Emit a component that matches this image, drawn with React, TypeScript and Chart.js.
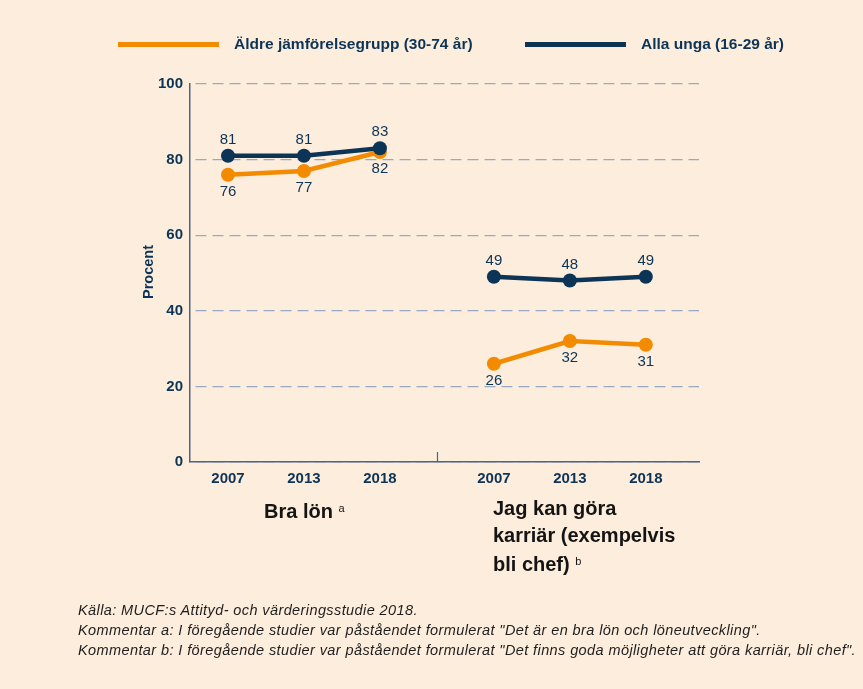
import React, { useEffect, useRef } from 'react';
import { Chart, registerables } from 'chart.js';

Chart.register(...registerables);

const yearLabels = ['2007', '2013', '2018', '2007', '2013', '2018'];
const xPositions = [0.5, 1.5, 2.5, 4, 5, 6];
const separatorX = 3.25;
const youngValues = [81, 81, 83, 49, 48, 49];
const olderValues = [76, 77, 82, 26, 32, 31];
const seriesNames = ['Äldre jämförelsegrupp (30-74 år)', 'Alla unga (16-29 år)'];
const footnotes = [
  'Källa: MUCF:s Attityd- och värderingsstudie 2018.',
  'Kommentar a: I föregående studier var påståendet formulerat "Det är en bra lön och löneutveckling".',
  'Kommentar b: I föregående studier var påståendet formulerat "Det finns goda möjligheter att göra karriär, bli chef".',
];

const ORANGE = '#f28b00';
const NAVY = '#0c3457';
const AXIS = '#4a6585';
const GRID = '#98a9c0';
const BG = '#fdeddc';
const FONT = '"Liberation Sans", Arial, Helvetica, sans-serif';

function buildPoints(values: number[]) {
  const pts: { x: number; y: number | null }[] = [];
  values.forEach((v, i) => {
    if (i === 3) pts.push({ x: separatorX, y: null });
    pts.push({ x: xPositions[i], y: v });
  });
  return pts;
}

const labelPlugin = {
  id: 'valueLabels',
  afterDatasetsDraw(chart: any) {
    const ctx = chart.ctx;
    ctx.save();
    ctx.font = `15px ${FONT}`;
    ctx.fillStyle = NAVY;
    ctx.textAlign = 'center';
    ctx.textBaseline = 'middle';
    chart.data.datasets.forEach((ds: any, di: number) => {
      const meta = chart.getDatasetMeta(di);
      meta.data.forEach((el: any, i: number) => {
        const raw = ds.data[i];
        if (raw.y == null) return;
        ctx.fillText(String(raw.y), el.x, el.y + ds.labelOffset);
      });
    });
    ctx.restore();
  },
};

const extrasPlugin = {
  id: 'extras',
  afterDraw(chart: any) {
    const ctx = chart.ctx;
    const xs = chart.scales.x;
    const area = chart.chartArea;
    ctx.save();
    const sx = Math.round(xs.getPixelForValue(separatorX)) + 0.5;
    ctx.strokeStyle = AXIS;
    ctx.lineWidth = 1.2;
    ctx.beginPath();
    ctx.moveTo(sx, area.bottom);
    ctx.lineTo(sx, area.bottom - 10);
    ctx.stroke();
    ctx.translate(149, (area.top + area.bottom) / 2 - 1);
    ctx.rotate(-Math.PI / 2);
    ctx.font = `bold 14.5px ${FONT}`;
    ctx.fillStyle = NAVY;
    ctx.textAlign = 'center';
    ctx.textBaseline = 'middle';
    ctx.fillText('Procent', 0, 0);
    ctx.restore();
  },
};

export default function App() {
  const ref = useRef<HTMLCanvasElement | null>(null);

  useEffect(() => {
    if (!ref.current) return;
    const chart = new Chart(ref.current, {
      type: 'line',
      data: {
        datasets: [
          {
            label: seriesNames[1],
            data: buildPoints(youngValues) as any,
            borderColor: NAVY,
            backgroundColor: NAVY,
            borderWidth: 4.5,
            pointRadius: 7,
            pointHoverRadius: 7,
            pointBorderWidth: 0,
            spanGaps: false,
            order: 1,
            labelOffset: -16,
          } as any,
          {
            label: seriesNames[0],
            data: buildPoints(olderValues) as any,
            borderColor: ORANGE,
            backgroundColor: ORANGE,
            borderWidth: 4.5,
            pointRadius: 7,
            pointHoverRadius: 7,
            pointBorderWidth: 0,
            spanGaps: false,
            order: 2,
            labelOffset: 17,
          } as any,
        ],
      },
      options: {
        animation: false,
        responsive: false,
        maintainAspectRatio: false,
        layout: { padding: { left: 0, top: 84, right: 164, bottom: 197 } },
        plugins: { legend: { display: false }, tooltip: { enabled: false } },
        scales: {
          x: {
            type: 'linear',
            min: 0,
            max: 6.7,
            afterBuildTicks: (scale: any) => {
              scale.ticks = xPositions.map((v) => ({ value: v }));
            },
            afterFit: (scale: any) => {
              scale.height = 30;
            },
            ticks: {
              autoSkip: false,
              maxRotation: 0,
              padding: 8,
              color: NAVY,
              font: { family: FONT, size: 15, weight: 'bold' },
              callback: (_v: any, i: number) => yearLabels[i],
            },
            grid: { display: false, drawTicks: false },
            border: { display: true, color: AXIS, width: 1.5 },
          },
          y: {
            type: 'linear',
            min: 0,
            max: 100,
            afterFit: (scale: any) => {
              scale.width = 190;
            },
            ticks: {
              stepSize: 20,
              padding: 7,
              color: NAVY,
              font: { family: FONT, size: 15, weight: 'bold' },
            },
            grid: { color: GRID, lineWidth: 1.2, drawTicks: false, tickLength: 0 },
            border: { display: true, color: AXIS, width: 1.5, dash: [11, 6], dashOffset: 12 },
          },
        },
      } as any,
      plugins: [labelPlugin, extrasPlugin],
    });
    return () => chart.destroy();
  }, []);

  const abs = (s: React.CSSProperties): React.CSSProperties => ({ position: 'absolute', whiteSpace: 'nowrap', ...s });

  return (
    <div style={{ position: 'fixed', left: 0, top: 0, width: 863, height: 689, background: BG, fontFamily: FONT, overflow: 'hidden' }}>
      <canvas ref={ref} width={863} height={689} style={{ position: 'absolute', left: 0, top: 0, width: 863, height: 689 }} />
      {/* legend */}
      <div style={abs({ left: 118, top: 42, width: 101, height: 5, background: ORANGE })} />
      <div style={abs({ left: 234, top: 34, lineHeight: '20px', fontSize: 15.5, fontWeight: 'bold', color: NAVY })}>{seriesNames[0]}</div>
      <div style={abs({ left: 525, top: 42, width: 101, height: 5, background: NAVY })} />
      <div style={abs({ left: 641, top: 34, lineHeight: '20px', fontSize: 15.5, fontWeight: 'bold', color: NAVY })}>{seriesNames[1]}</div>
      {/* group titles */}
      <div style={abs({ left: 264, top: 495, lineHeight: '26px', fontSize: 20, fontWeight: 'bold', color: '#141414' })}>
        Bra lön <span style={{ fontSize: 11, fontWeight: 'normal', verticalAlign: 6 }}>a</span>
      </div>
      <div style={abs({ left: 493, top: 495, lineHeight: '26.5px', fontSize: 20, fontWeight: 'bold', color: '#141414' })}>
        Jag kan göra
        <br />
        karriär (exempelvis
        <br />
        bli chef) <span style={{ fontSize: 11, fontWeight: 'normal', verticalAlign: 6 }}>b</span>
      </div>
      {/* footnotes */}
      <div style={abs({ left: 78, top: 600, lineHeight: '20px', fontSize: 14.5, letterSpacing: '0.4px', fontStyle: 'italic', color: '#1e1e1e' })}>
        {footnotes.map((f, i) => (
          <div key={i}>{f}</div>
        ))}
      </div>
    </div>
  );
}
